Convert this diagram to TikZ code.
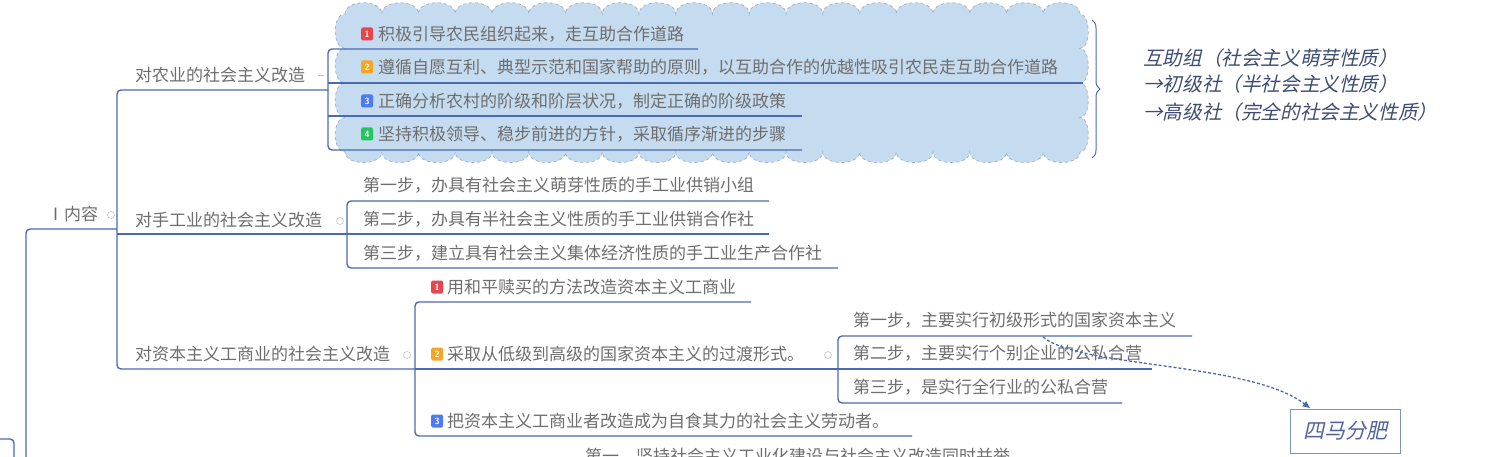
\documentclass[tikz,border=0pt]{standalone}
\usepackage{fontspec}
\newfontfamily\cjk{Noto Sans CJK SC}
\newfontfamily\cjkit[FakeSlant=0.22]{Noto Sans CJK SC}
\usetikzlibrary{decorations.pathreplacing,arrows.meta}
\definecolor{lineblue}{HTML}{4A6BB3}
\definecolor{txtgray}{HTML}{6E6E6E}
\definecolor{cloudfill}{HTML}{C5DBEF}
\definecolor{cloudedge}{HTML}{9FB0C4}
\definecolor{sumtext}{HTML}{3F4D73}
\definecolor{boxedge}{HTML}{7F93BF}
\definecolor{boxtext}{HTML}{5262A0}
\definecolor{iconred}{HTML}{E8464F}
\definecolor{iconorange}{HTML}{F5A623}
\definecolor{iconblue}{HTML}{4D7BF3}
\definecolor{icongreen}{HTML}{22C55E}
\begin{document}
\begin{tikzpicture}[x=1pt,y=-1pt,
  lbl/.style={anchor=west,inner sep=0pt,font=\cjk\fontsize{17}{17}\selectfont,text=txtgray},
  conn/.style={draw=lineblue,line width=1.4pt,rounded corners=4pt},
  numicon/.style={inner sep=0pt,minimum width=12pt,minimum height=13pt,rounded corners=1.5pt,text=white,font=\sffamily\bfseries\fontsize{9}{9}\selectfont},
  fold/.style={circle,draw=gray!45,line width=0.6pt,inner sep=0pt,minimum size=7pt},
  sumlbl/.style={anchor=west,inner sep=0pt,font=\cjkit\fontsize{19.6}{19.6}\selectfont,text=sumtext}]
\useasboundingbox (0,0) rectangle (1486,457);
\clip (0,0) rectangle (1486,457);
\fill[white] (0,0) rectangle (1486,457);

% cloud
\filldraw[fill=cloudfill,draw=cloudedge,dashed,line width=0.7pt]
  (345,14) foreach \i in {1,...,20} { .. controls +(0,-15) and +(0,-15) .. ++(36.75,0) }
  foreach \i in {1,...,4} { .. controls +(11,0) and +(11,0) .. ++(0,34.5) }
  foreach \i in {1,...,20} { .. controls +(0,14) and +(0,14) .. ++(-36.75,0) }
  foreach \i in {1,...,4} { .. controls +(-13,0) and +(-13,0) .. ++(0,-34.5) } -- cycle;

% brace
\coordinate (brtop) at (1092,20);
\coordinate (brbot) at (1092,158);
\draw[lineblue,line width=1pt,decorate,decoration={brace,amplitude=8pt}] (brtop) -- (brbot);

% connectors
\draw[conn] (117,229) -- (26,229) -- (26,470);
\draw[conn] (0,439) -- (14,439) -- (14,470);
\draw[conn] (328,90) -- (117,90) -- (117,369) -- (415,369);
\draw[conn] (117,234) -- (347,234);
\draw[conn] (698,49) -- (328,49) -- (328,150) -- (802,150);
\draw[conn] (328,83) -- (1083,83);
\draw[conn] (328,116) -- (802,116);
\draw[conn] (769,201) -- (347,201) -- (347,268) -- (838,268);
\draw[conn] (347,234) -- (769,234);
\draw[conn] (751,302) -- (415,302) -- (415,436) -- (912,436);
\draw[conn] (415,369) -- (838,369);
\draw[conn] (1192,336) -- (838,336) -- (838,403) -- (1122,403);
\draw[conn] (838,369) -- (1152,369);

% level 1
\node[lbl] (n0) at (47,214) {Ⅰ内容};
\node[fold] (f0) at (111,215) {};
% agriculture
\node[lbl] (a0) at (135,75) {对农业的社会主义改造};
\draw[gray!50,line width=0.8pt] (318,75) -- (324,75);
\node[numicon,fill=iconred] (ai1) at (367,34) {1};
\node[lbl] (a1) at (378,34) {积极引导农民组织起来，走互助合作道路};
\node[numicon,fill=iconorange] (ai2) at (367,67) {2};
\node[lbl] (a2) at (378,67) {遵循自愿互利、典型示范和国家帮助的原则，以互助合作的优越性吸引农民走互助合作道路};
\node[numicon,fill=iconblue] (ai3) at (367,101) {3};
\node[lbl] (a3) at (378,101) {正确分析农村的阶级和阶层状况，制定正确的阶级政策};
\node[numicon,fill=icongreen] (ai4) at (367,134) {4};
\node[lbl] (a4) at (378,134) {坚持积极领导、稳步前进的方针，采取循序渐进的步骤};
% handicraft
\node[lbl] (h0) at (135,220) {对手工业的社会主义改造};
\node[fold] (f1) at (340,221) {};
\node[lbl] (h1) at (363,185) {第一步，办具有社会主义萌芽性质的手工业供销小组};
\node[lbl] (h2) at (363,219) {第二步，办具有半社会主义性质的手工业供销合作社};
\node[lbl] (h3) at (363,253) {第三步，建立具有社会主义集体经济性质的手工业生产合作社};
% capitalist
\node[lbl] (c0) at (135,354) {对资本主义工商业的社会主义改造};
\node[fold] (f2) at (407,355) {};
\node[numicon,fill=iconred] (ci1) at (437,287) {1};
\node[lbl] (c1) at (447,287) {用和平赎买的方法改造资本主义工商业};
\node[numicon,fill=iconorange] (ci2) at (437,354) {2};
\node[lbl] (c2) at (447,354) {采取从低级到高级的国家资本主义的过渡形式。};
\node[fold] (f3) at (828,355) {};
\node[numicon,fill=iconblue] (ci3) at (437,421) {3};
\node[lbl] (c3) at (447,421) {把资本主义工商业者改造成为自食其力的社会主义劳动者。};
\node[lbl] (s1) at (853,320) {第一步，主要实行初级形式的国家资本主义};
\node[lbl] (s2) at (853,353) {第二步，主要实行个别企业的公私合营};
\node[lbl] (s3) at (853,387) {第三步，是实行全行业的公私合营};
% bottom text, cut by the lower edge as in the reference
\node[lbl] (b0) at (585,456) {第一、坚持社会主义工业化建设与社会主义改造同时并举};

% summary
\node[sumlbl] (m1) at (1143,58) {互助组（社会主义萌芽性质）};
\node[sumlbl] (m2) at (1143,84) {→初级社（半社会主义性质）};
\node[sumlbl] (m3) at (1143,112) {→高级社（完全的社会主义性质）};

% relation box
\node[draw=boxedge,line width=0.9pt,minimum width=110pt,minimum height=44pt,inner sep=0pt,
      font=\cjkit\fontsize{21}{21}\selectfont,text=boxtext] (box) at (1345,431) {四马分肥};
\coordinate (relstart) at (1043,337);
\coordinate (relend) at ([xshift=21pt]box.north west);
\draw[lineblue,line width=1.3pt,densely dashed,-{Latex[length=8pt,width=7pt]}]
  (relstart) .. controls (1080,368) and (1250,362) .. (relend);
\end{tikzpicture}
\end{document}
